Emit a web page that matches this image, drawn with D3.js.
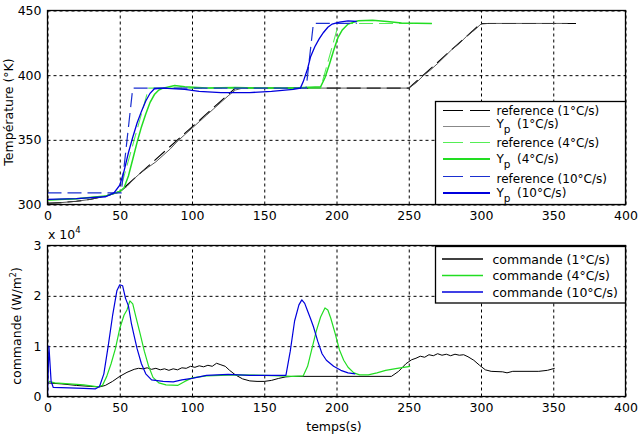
<!DOCTYPE html>
<html><head><meta charset="utf-8">
<script src="https://cdn.jsdelivr.net/npm/d3@7"></script>
<style>
html,body{margin:0;padding:0;background:#fff;}
svg{display:block;}
text{font-family:"DejaVu Sans",sans-serif;font-size:12.5px;fill:#000;}
.leg text{font-size:12px;}
</style></head><body>
<svg id="chart" width="644" height="434"></svg>
<script>
// ---- data ----
const xTicks = [0, 50, 100, 150, 200, 250, 300, 350, 400];
const yTopTicks = [300, 350, 400, 450];
const yBotTicks = [0, 1, 2, 3];

// Temperature (°K) vs time (s)
const ref1 = [[0,301],[10,301.5],[20,302.5],[30,304],[40,306.5],[50,310],[130,390],[250,390],[300,440],[368,440]];
const yp1 = [[0,301],[10,301.5],[20,302.5],[30,304],[40,306.5],[50,309.5],[55,314],[60,320],[65,325],[70,329],[75,333],[80,338],[85,343],[90,349],[95,354],[100,359],[105,364],[110,369],[115,374],[120,379],[125,384],[130,388.5],[135,390],[250,390],[255,394],[260,399.5],[265,404],[270,409],[275,414.5],[280,420],[285,424.5],[290,430],[295,434.5],[300,439.5],[305,440],[360,440]];
const ref4 = [[0,303.5],[20,304.5],[40,306.5],[50,310],[70,390],[189,390],[201.5,440],[266,440]];
const yp4 = [[0,303.5],[20,304.5],[40,306.5],[50,310],[53,313],[56,322],[59,335],[62,348],[65,360],[68,370],[71,379],[74,385],[77,388.5],[80,390],[88,392],[95,391],[110,390],[130,390.5],[150,390],[170,390],[189,391],[192,398],[195,408],[198,419],[201,429],[204,435],[208,439.5],[215,442],[225,442.5],[235,441.5],[245,440.3],[266,440]];
const ref10 = [[0,309],[51,309],[59,390],[179,390],[184,440],[214,440]];
const yp10 = [[0,304],[20,304.5],[40,306],[46,309],[50,315],[53,326],[56,340],[59,352],[62,363],[65,372],[68,380],[71,386],[74,389.5],[80,390],[95,389],[105,387.5],[120,386.5],[140,386.5],[155,387.5],[170,389],[175,390],[177,395],[180,405],[182,414],[185,422],[188,428],[191,433],[194,437],[197,439.5],[202,441],[208,442],[214,441.5]];

// commande (x 10^4 W/m²) vs time (s)
const cmd1 = [[0,0.27],[10,0.25],[20,0.22],[30,0.2],[36,0.19],[40,0.22],[45,0.3],[50,0.4],[55,0.48],[60,0.54],[63,0.56],[66,0.55],[69,0.57],[72,0.54],[75,0.56],[78,0.53],[81,0.55],[84,0.52],[87,0.55],[90,0.53],[93,0.57],[96,0.56],[99,0.6],[102,0.58],[105,0.61],[108,0.59],[111,0.62],[114,0.6],[117,0.66],[120,0.63],[123,0.6],[126,0.52],[130,0.43],[135,0.35],[140,0.31],[145,0.3],[150,0.3],[155,0.32],[160,0.36],[165,0.39],[170,0.4],[238,0.4],[243,0.5],[248,0.65],[252,0.73],[255,0.76],[258,0.8],[261,0.78],[264,0.83],[267,0.81],[270,0.85],[273,0.82],[276,0.84],[279,0.81],[282,0.84],[285,0.82],[288,0.83],[291,0.79],[295,0.72],[299,0.62],[303,0.53],[307,0.5],[315,0.49],[318,0.47],[322,0.5],[340,0.5],[346,0.52],[351,0.56]];
const cmd4 = [[1,0.3],[5,0.27],[15,0.25],[25,0.23],[35,0.19],[38,0.22],[41,0.4],[44,0.65],[47,0.95],[50,1.35],[53,1.62],[55,1.72],[57,1.9],[59,1.84],[61,1.6],[64,1.26],[67,0.9],[70,0.6],[73,0.38],[77,0.27],[82,0.23],[90,0.22],[95,0.3],[100,0.37],[110,0.41],[130,0.43],[150,0.42],[170,0.4],[177,0.41],[180,0.6],[183,0.95],[186,1.3],[189,1.58],[192,1.76],[194,1.72],[196,1.56],[199,1.26],[202,0.93],[205,0.72],[208,0.58],[212,0.47],[216,0.43],[222,0.43],[228,0.47],[234,0.52],[242,0.56],[251,0.6]];
const cmd10 = [[0,0],[1,1.0],[2.5,0.3],[4,0.18],[15,0.17],[25,0.16],[33,0.15],[36,0.2],[39,0.45],[42,1.0],[45,1.6],[48,2.1],[50,2.22],[52,2.2],[54,1.95],[56,1.8],[58,1.46],[60,1.2],[62,0.95],[65,0.65],[68,0.45],[72,0.33],[80,0.3],[87,0.29],[93,0.33],[100,0.36],[110,0.42],[125,0.44],[140,0.42],[155,0.42],[165,0.42],[168,0.9],[171,1.5],[174,1.82],[176,1.92],[178,1.85],[180,1.7],[182,1.55],[184,1.39],[187,1.1],[190,0.85],[193,0.72],[198,0.6],[203,0.52],[208,0.47],[213,0.45]];

const topRates = ["(1°C/s)", "(4°C/s)", "(10°C/s)"];
const botLabels = ["commande (1°C/s)", "commande (4°C/s)", "commande (10°C/s)"];

// ---- drawing ----
const svg = d3.select("#chart");
const x = d3.scaleLinear([0, 400], [47.5, 625.5]);
const yT = d3.scaleLinear([300, 450], [204.5, 10.5]);
const yB = d3.scaleLinear([0, 3], [396.5, 245.5]);

svg.append("rect").attr("width",644).attr("height",434).attr("fill","#fff");

function panel(y, yTicks, clipId) {
  const [y0, y1] = y.range();
  const g = svg.append("g");
  g.append("rect").attr("x", x(0)).attr("y", y1).attr("width", x(400)-x(0)).attr("height", y0-y1).attr("fill","#fff");
  const gx = g.append("g").attr("transform", `translate(0,${y0})`)
    .call(d3.axisBottom(x).tickValues(xTicks).tickSize(-(y0-y1)).tickFormat(""));
  gx.select(".domain").remove();
  gx.selectAll("line").attr("stroke","#000").attr("stroke-dasharray","3,3").attr("stroke-width",1);
  const gy = g.append("g").attr("transform", `translate(${x(0)},0)`)
    .call(d3.axisLeft(y).tickValues(yTicks).tickSize(-(x(400)-x(0))).tickFormat(""));
  gy.select(".domain").remove();
  gy.selectAll("line").attr("stroke","#000").attr("stroke-dasharray","3,3").attr("stroke-width",1);
  const lx = g.append("g").attr("transform", `translate(0,${y0})`)
    .call(d3.axisBottom(x).tickValues(xTicks).tickSize(0).tickPadding(7).tickFormat(d3.format("d")));
  lx.select(".domain").remove();
  const ly = g.append("g").attr("transform", `translate(${x(0)},0)`)
    .call(d3.axisLeft(y).tickValues(yTicks).tickSize(0).tickPadding(6).tickFormat(d3.format("d")));
  ly.select(".domain").remove();
  svg.append("clipPath").attr("id", clipId).append("rect")
    .attr("x", x(0)).attr("y", y1-2).attr("width", x(400)-x(0)).attr("height", y0-y1+2);
  const data = svg.append("g").attr("clip-path", `url(#${clipId})`);
  return {g, data, y0, y1};
}

const pTop = panel(yT, yTopTicks, "clipTop");
const pBot = panel(yB, yBotTicks, "clipBot");

const lineT = d3.line().x(d => x(d[0])).y(d => yT(d[1]));
const lineB = d3.line().x(d => x(d[0])).y(d => yB(d[1]));

const topSeries = [
  {d: ref1, c: "#000", w: 1.1, dash: "14,6"},
  {d: yp1, c: "#444", w: 0.9, dash: null},
  {d: ref4, c: "#55ee55", w: 1.1, dash: "14,6"},
  {d: yp4, c: "#22dd22", w: 1.5, dash: null},
  {d: ref10, c: "#1a2fd0", w: 1.2, dash: "14,6"},
  {d: yp10, c: "#0000dd", w: 1.3, dash: null}
];
topSeries.forEach(s => {
  pTop.data.append("path").attr("d", lineT(s.d)).attr("fill","none")
    .attr("stroke", s.c).attr("stroke-width", s.w)
    .attr("stroke-dasharray", s.dash);
});
const botSeries = [
  {d: cmd1, c: "#000", w: 1},
  {d: cmd4, c: "#22dd22", w: 1.2},
  {d: cmd10, c: "#0000dd", w: 1.2}
];
botSeries.forEach(s => {
  pBot.data.append("path").attr("d", lineB(s.d)).attr("fill","none")
    .attr("stroke", s.c).attr("stroke-width", s.w).attr("stroke-linejoin","round");
});

[pTop, pBot].forEach(p => {
  svg.append("rect").attr("x", x(0)).attr("y", p.y1).attr("width", x(400)-x(0)).attr("height", p.y0-p.y1)
    .attr("fill","none").attr("stroke","#000").attr("stroke-width",1.3);
});

svg.append("text").attr("transform","translate(13,112) rotate(-90)").attr("text-anchor","middle").text("Température (°K)");
const bt = svg.append("text").attr("transform","translate(20.5,326) rotate(-90)").attr("text-anchor","middle");
bt.append("tspan").text("commande (W/m");
bt.append("tspan").attr("font-size","8px").attr("dy","-5").text("2");
bt.append("tspan").attr("dy","5").text(")");
svg.append("text").attr("x", 334).attr("y", 431).attr("text-anchor","middle").text("temps(s)");
const mult = svg.append("text").attr("x", 48).attr("y", 238.5);
mult.append("tspan").text("x 10");
mult.append("tspan").attr("font-size","8.5px").attr("dy","-6").text("4");

const tl = svg.append("g").attr("class","leg");
tl.append("rect").attr("x",435.5).attr("y",101.5).attr("width",190).attr("height",103)
  .attr("fill","#fff").attr("stroke","#000").attr("stroke-width",1.3);
const legStyles = [
  {c:"#000", w:1.2, dash:"20,7"}, {c:"#888", w:1.2, dash:null},
  {c:"#55ee55", w:1.2, dash:"20,7"}, {c:"#22dd22", w:2, dash:null},
  {c:"#1a2fd0", w:1.2, dash:"20,7"}, {c:"#0000dd", w:2, dash:null}
];
const lineYs = [110.5, 126.5, 142.5, 159, 176.5, 193];
const textYs = [114.5, 127.5, 146.5, 162.5, 182.5, 196.5];
legStyles.forEach((s, i) => {
  tl.append("line").attr("x1",443).attr("x2",490).attr("y1",lineYs[i]).attr("y2",lineYs[i])
    .attr("stroke",s.c).attr("stroke-width",s.w).attr("stroke-dasharray",s.dash);
  const rate = topRates[Math.floor(i/2)];
  const t = tl.append("text").attr("x",496.5).attr("y",textYs[i]);
  if (i % 2 === 0) {
    t.text("reference " + rate);
  } else {
    t.append("tspan").text("Y");
    t.append("tspan").attr("dy","5").attr("font-size","10.5px").text("p");
    t.append("tspan").attr("dy","-5").attr("x",517).text(rate);
  }
});

const bl = svg.append("g").attr("class","leg");
bl.append("rect").attr("x",435.5).attr("y",246.5).attr("width",190).attr("height",56.5)
  .attr("fill","#fff").attr("stroke","#000").attr("stroke-width",1.3);
const botLegY = [259, 275.5, 292];
botSeries.forEach((s, i) => {
  bl.append("line").attr("x1",442).attr("x2",483).attr("y1",botLegY[i]).attr("y2",botLegY[i])
    .attr("stroke",s.c).attr("stroke-width",s.w+0.3);
  bl.append("text").attr("x",492.5).attr("y",botLegY[i]+4.5).attr("style","font-size:12.5px").text(botLabels[i]);
});
</script>
</body></html>
